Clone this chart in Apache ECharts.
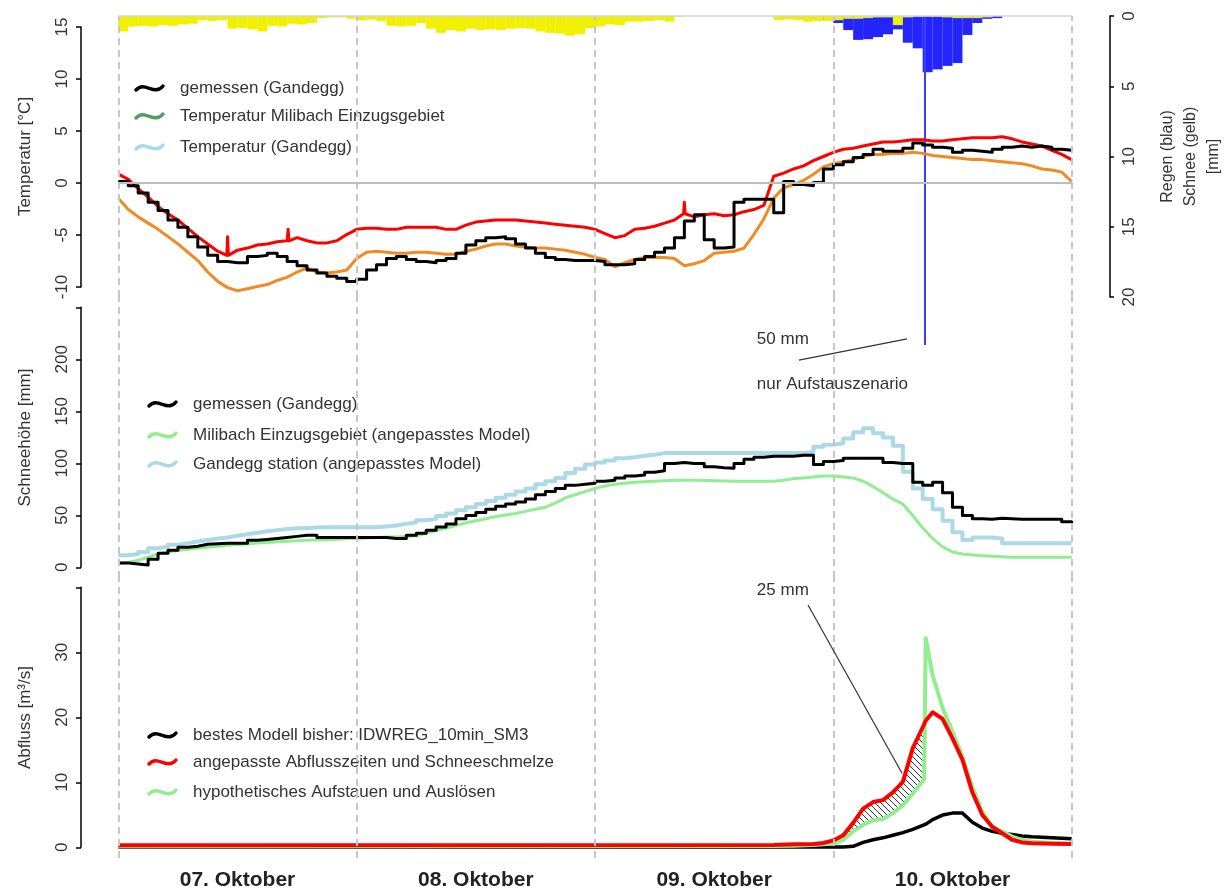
<!DOCTYPE html>
<html>
<head>
<meta charset="utf-8">
<script src="https://cdn.jsdelivr.net/npm/echarts@6/dist/echarts.min.js"></script>
<style>
  html, body { margin: 0; padding: 0; background: #fff; }
  #chart { width: 1228px; height: 890px; }
</style>
</head>
<body>
<div id="chart"></div>
<script>
// ---------------------------------------------------------------
// Time axis: hours since 07. Oktober 00:00 (four days, 0..96 h)
// ---------------------------------------------------------------
const dayTicks = [12, 36, 60, 84];
const dayLabels = ['07. Oktober', '08. Oktober', '09. Oktober', '10. Oktober'];
const dayBounds = [0, 24, 48, 72, 96];

// Temperature [°C], hourly values h = 0..96
const tempMeasured = [0.1,-0.3,-1.0,-1.9,-2.7,-3.6,-4.3,-5.2,-6.2,-7.0,
  -7.6,-7.7,-7.7,-7.1,-7.0,-6.8,-7.1,-7.6,-8.0,-8.4,
  -8.7,-9.0,-9.2,-9.5,-9.3,-8.4,-7.9,-7.3,-7.1,-7.4,
  -7.6,-7.7,-7.5,-7.3,-6.8,-6.0,-5.6,-5.3,-5.2,-5.4,
  -5.9,-6.3,-6.8,-7.2,-7.4,-7.5,-7.5,-7.5,-7.6,-7.9,
  -7.9,-7.8,-7.4,-7.1,-6.7,-6.3,-5.3,-3.7,-3.1,-5.5,
  -6.3,-6.2,-1.9,-1.6,-1.6,-1.6,-2.9,0.1,-0.2,-0.3,
  0.0,1.3,1.7,2.0,2.4,2.7,3.2,3.0,3.0,3.3,
  3.8,3.6,3.4,3.3,2.9,3.1,3.0,2.9,3.2,3.4,
  3.5,3.4,3.5,3.4,3.2,3.1,3.1];
const tempCatchment = [0.8,0.3,-0.6,-1.4,-2.3,-3.0,-3.6,-4.4,-5.2,-5.9,
  -6.6,-7.0,-6.5,-6.3,-6.0,-5.9,-5.7,-5.6,-5.3,-5.6,
  -5.8,-5.8,-5.6,-5.0,-4.5,-4.4,-4.4,-4.5,-4.5,-4.3,
  -4.3,-4.3,-4.3,-4.5,-4.5,-4.1,-3.8,-3.7,-3.6,-3.6,
  -3.6,-3.7,-3.8,-3.9,-4.0,-4.1,-4.2,-4.3,-4.5,-4.9,
  -5.3,-5.1,-4.5,-4.4,-4.2,-3.9,-3.6,-3.0,-3.3,-3.1,
  -3.0,-3.2,-3.1,-2.8,-2.6,-2.2,0.6,0.9,1.3,1.6,
  2.1,2.5,2.9,3.2,3.3,3.5,3.7,3.9,3.9,4.0,
  4.1,4.1,4.0,4.0,4.1,4.2,4.3,4.3,4.3,4.4,
  4.2,3.9,3.7,3.5,3.1,2.7,2.2];
// short spikes of the catchment series: [hour, level, peak]
const tempCatchmentSpikes = [[11.0,-7.0,-5.2],[17.1,-5.6,-4.5],[57.0,-3.0,-1.9]];
const tempStation = [-1.5,-2.6,-3.3,-3.9,-4.5,-5.2,-5.9,-6.7,-7.5,-8.6,
  -9.5,-10.1,-10.4,-10.2,-10.0,-9.8,-9.4,-9.1,-8.6,-8.2,
  -8.6,-8.7,-8.6,-8.4,-7.3,-6.7,-6.6,-6.7,-6.8,-6.8,
  -6.7,-6.7,-6.8,-6.9,-6.9,-6.6,-6.4,-6.1,-5.9,-5.9,
  -6.1,-6.2,-6.3,-6.3,-6.4,-6.5,-6.7,-6.9,-7.2,-7.4,
  -8.1,-7.7,-7.4,-7.2,-7.2,-7.2,-7.3,-8.0,-7.8,-7.5,
  -6.8,-6.7,-6.6,-6.3,-5.0,-3.5,-1.5,-0.5,-0.2,0.2,
  0.8,1.5,1.8,2.0,2.2,2.5,2.7,2.7,2.8,2.8,
  2.9,2.8,2.6,2.5,2.4,2.3,2.2,2.2,2.1,2.0,
  1.9,1.8,1.6,1.3,1.2,1.0,0.1];

// Precipitation per hour [mm]; rain as [hour, mm], snow for every hour 0..95
const rainMm = [[0,0.35],[1,0.05],[66,0.1],[67,0.15],[68,0.15],[69,0.2],[70,0.2],
  [71,0.25],[72,0.5],[73,1.0],[74,1.7],[75,1.65],[76,1.5],[77,1.3],[78,0.95],
  [79,1.9],[80,2.3],[81,4.0],[82,3.8],[83,3.55],[84,3.35],[85,1.35],[86,0.5],
  [87,0.2],[88,0.15]];
const snowfallMm = [1.1,0.75,0.7,0.75,0.65,0.7,0.6,0.55,0.3,0.35,
  0.3,0.9,0.85,0.95,1.1,0.7,0.75,0.55,0.6,0.5,
  0.15,0.1,0.1,0.2,0.3,0.25,0.35,0.7,0.75,0.7,
  0.5,0.9,1.2,1.0,1.1,0.9,1.0,0.95,1.0,0.9,
  0.85,0.9,1.1,1.2,1.25,1.4,1.3,0.85,0.75,0.6,
  0.65,0.4,0.4,0.35,0.3,0.4,0.05,0,0,0,
  0,0,0,0,0,0,0.3,0.25,0.3,0.4,
  0.35,0.35,0.3,0.2,0.2,0.15,0.1,0.1,0.65,0.1,
  0.05,0.05,0.05,0.1,0.15,0.15,0.15,0.1,0,0,
  0,0,0,0,0,0];
// hypothetical release (damming scenario only)
const releaseHour = 81.23;
const releaseMm = 50;

// Snow depth [mm], hourly values h = 0..96
const snowMeasured = [4.4,3.5,2.5,8,13.7,16.6,19.5,20.5,22.4,23,
  23.4,23.4,23.4,26.2,27,28,29,30,31,31,
  29,29,29,29,29,29,29,28,28,31,
  33,36,39,42,47,50,53,56,59,61,
  63,66,70,73,76,79,80,81,83,84,
  86,88,89,91.6,93,100,101,100,100,97,
  96,95.5,100,104,106,107,107,107,108,108,
  99,102,103,105,105,105,105,101,100,100,
  82,79,82,72,58,50,47,46.5,47.4,47,
  46.4,46.4,46.4,46.4,46.4,44,42.6];
const snowCatchment = [4,5,7,10,13,15,16.5,17.5,18.5,19.5,
  20.5,21.4,22.2,23,23.6,24.2,24.8,25.3,25.8,26.2,
  26.5,26.8,27.2,27.6,28,28.5,29,29.3,29.5,29.8,
  30.5,33,35.5,38,40.5,43,45,47,49,50.5,
  52,54,56,58,62,67,70,73,76,78.5,
  80,81,82,82.5,83,83.5,84,84,84,83.8,
  83.5,83.2,83,83,83,83,83,84,85.5,86,
  87,88,88,87,86,83,78,72,66,61,
  50,38,28,20,15,13,12,11.5,11,10.5,
  10,10,10,10,10,10,10];
const snowStation = [11.8,13,15,18.5,20,22,23.5,25,26.5,28,
  29,30.5,32,33.5,35,36,37,37.8,38,38.5,
  38.7,38.7,38.7,38.7,38.7,38.7,39.5,40.5,42,43.5,
  45.5,47,49.5,52,55,58,61,64,67,70,
  73,76,80,83,86,91,95,99,101,103,
  105,106,107.5,108.5,110,110,110,110,110,110,
  110,110,110,110,110,110,110,110,110,111,
  116,118,119.5,124,130,134,129,125,117,92,
  76,66,56,45,34,26.5,29,29,28,23.4,
  23.4,23.4,23.4,23.4,23.4,23.4,23.4];

// Discharge [m³/s] at common time steps
const qHours    = [0,66,68,70,71,72,73,74,75,76,77,78,79,80,81,81.15,81.3,82,83,84,85,86,87,88,89,90,91,92,94,96];
const qBest     = [0.1,0.1,0.1,0.1,0.1,0.1,0.1,0.2,0.8,1.2,1.5,1.9,2.3,2.8,3.4,3.5,3.6,4.3,5.0,5.3,5.3,3.9,3.0,2.5,2.2,2.0,1.8,1.65,1.5,1.35];
const qAdjusted = [0.35,0.4,0.5,0.55,0.7,1.1,1.9,3.8,6.0,7.0,7.3,8.5,10.1,15.3,18.5,19.0,19.5,20.8,19.8,16.8,13.5,8.5,5.0,3.2,2.2,1.2,0.8,0.65,0.6,0.55];
const qDamming  = [0.2,0.25,0.3,0.4,0.5,0.6,1.2,2.5,3.5,4.2,4.4,5.3,6.5,8.3,10.2,10.6,32.2,26.5,21.5,17.8,14.0,9.3,5.5,3.1,2.5,1.7,1.2,0.9,0.7,0.6];
// hatched band between the two scenarios (index range in qHours)
const hatchFrom = 5, hatchTo = 15;

// ---------------------------------------------------------------
// Layout
// ---------------------------------------------------------------
const X_MIN = -3.76, X_MAX = 99.86;
const LEFT = 81, WIDTH = 1029;
const FONT = "'Liberation Sans', Arial, sans-serif";
const TXT = '#333333';

const hourly = values => values.map((v, i) => [i, v]);
const pairs = (xs, ys) => xs.map((x, i) => [x, ys[i]]);

function withSpikes(values, spikes) {
  const pts = hourly(values);
  spikes.forEach(([t, base, peak]) => {
    pts.push([t - 0.08, base], [t, peak], [t + 0.08, base]);
  });
  return pts.sort((a, b) => a[0] - b[0]);
}

const rainFull = new Array(96).fill(0);
rainMm.forEach(([h, v]) => { rainFull[h] = v; });
const rainBars = rainFull.map((v, i) => [i + 0.5, v]);
const snowBars = snowfallMm.map((v, i) => [i + 0.5, v]);

// hatch pattern for the band
const hatch = document.createElement('canvas');
hatch.width = 6; hatch.height = 6;
(function () {
  const c = hatch.getContext('2d');
  c.strokeStyle = '#333';
  c.lineWidth = 1;
  c.beginPath();
  for (let k = -1; k <= 1; k++) {
    c.moveTo(k * 6, 0);
    c.lineTo(k * 6 + 6, 6);
  }
  c.stroke();
})();

const grids = [
  { top: 16,    height: 281 },   // 0 temperature + precipitation
  { top: 297,   height: 281 },   // 1 snow depth
  { top: 577,   height: 281 },   // 2 discharge
  { top: 27,    height: 260 },   // 3 temperature scale  (-10..15)
  { top: 307.3, height: 260 },   // 4 snow depth scale   (0..250)
  { top: 587.3, height: 260 },   // 5 discharge scale    (0..40)
  { top: 16,    height: 329 }    // 6 release bar        (0..50 mm)
].map(g => Object.assign({ left: LEFT, width: WIDTH, containLabel: false, outerBoundsMode: 'none' }, g));

const xAxes = grids.map((g, i) => ({
  type: 'value', gridIndex: i, min: X_MIN, max: X_MAX, show: i === 2,
  axisLine: { show: false, onZero: false }, axisTick: { show: false }, splitLine: { show: false },
  axisLabel: {
    show: i === 2,
    customValues: dayTicks,
    formatter: v => dayLabels[dayTicks.indexOf(v)] || '',
    margin: 12, fontFamily: FONT, fontSize: 21, fontWeight: 'bold', color: '#222'
  }
}));

const hiddenAxis = (grid, min, max, name) => ({
  type: 'value', gridIndex: grid, min, max, position: 'left',
  axisLine: { show: false, onZero: false }, axisTick: { show: false },
  axisLabel: { show: false }, splitLine: { show: false },
  name, nameLocation: 'middle', nameRotate: 90, nameGap: 47,
  nameTextStyle: { fontFamily: FONT, fontSize: 17, color: TXT }
});

const scaleAxis = (grid, min, max, interval, hideTop) => ({
  type: 'value', gridIndex: grid, min, max, interval, position: 'left',
  axisLine: { show: true, onZero: false, lineStyle: { color: '#000', width: 1.5 } },
  axisTick: { show: true, length: 5, lineStyle: { color: '#000', width: 1.5 } },
  splitLine: { show: false },
  axisLabel: {
    rotate: 90, margin: 10, fontFamily: FONT, fontSize: 17, color: TXT,
    formatter: v => (hideTop && v === max) ? '' : String(v)
  }
});

const yAxes = [
  hiddenAxis(0, -11, 16, 'Temperatur [°C]'),                  // 0
  {                                                           // 1 precipitation
    type: 'value', gridIndex: 0, position: 'right', inverse: true,
    min: 0, max: 20, interval: 5,
    axisLine: { show: true, onZero: false, lineStyle: { color: '#000', width: 1.5 } },
    axisTick: { show: true, length: 4, lineStyle: { color: '#000', width: 1.5 } },
    splitLine: { show: false },
    axisLabel: { rotate: 90, margin: 11, fontFamily: FONT, fontSize: 17, color: TXT },
    name: 'Regen (blau)\nSchnee (gelb)\n[mm]', nameLocation: 'middle',
    nameRotate: 90, nameGap: 46,
    nameTextStyle: { fontFamily: FONT, fontSize: 16, color: TXT, lineHeight: 23 }
  },
  hiddenAxis(1, -10, 260, 'Schneehöhe [mm]'),                 // 2
  hiddenAxis(2, -1.6, 41.6, 'Abfluss [m³/s]'),                // 3
  scaleAxis(3, -10, 15, 5, false),                            // 4
  scaleAxis(4, 0, 250, 50, true),                             // 5
  scaleAxis(5, 0, 40, 10, true),                              // 6
  { type: 'value', gridIndex: 6, min: 0, max: 50, inverse: true, show: false } // 7
];

const dayLineStyle = { color: '#c6c6c6', width: 2, type: [7, 5] };
const dayLines = grid => ({
  type: 'line', xAxisIndex: grid, yAxisIndex: [0, 2, 3][grid], data: [], z: 1,
  silent: true,
  markLine: {
    silent: true, symbol: 'none', label: { show: false },
    lineStyle: dayLineStyle, animation: false,
    data: dayBounds.map(h => ({ xAxis: h }))
  }
});

const lineSeries = (x, y, data, color, width, extra) => Object.assign({
  type: 'line', xAxisIndex: x, yAxisIndex: y, data, showSymbol: false, symbol: 'none',
  lineStyle: { color, width, join: 'round' }, itemStyle: { color }, silent: true, z: 3
}, extra || {});

const annStyle = { fontFamily: FONT, fontSize: 17, color: TXT };
const textPoint = (coord, text) => ({
  coord, symbolSize: 0,
  label: Object.assign({ show: true, position: 'right', distance: 0, formatter: text }, annStyle)
});

const series = [
  dayLines(0), dayLines(1), dayLines(2),

  // precipitation (stacked, hanging from the top)
  {
    type: 'bar', xAxisIndex: 0, yAxisIndex: 1, stack: 'prec', data: rainBars,
    barWidth: 10, itemStyle: { color: '#2424ff' }, silent: true, z: 2,
    markLine: {
      silent: true, symbol: 'none', label: { show: false },
      lineStyle: { color: '#d4d4d4', width: 1.5, type: 'solid' },
      data: [[{ coord: [0, 0] }, { coord: [96, 0] }]]
    }
  },
  {
    type: 'bar', xAxisIndex: 0, yAxisIndex: 1, stack: 'prec', data: snowBars,
    barWidth: 10, itemStyle: { color: '#f0f000' }, silent: true, z: 2
  },
  {
    type: 'bar', xAxisIndex: 6, yAxisIndex: 7, data: [[releaseHour, releaseMm]],
    barWidth: 2, itemStyle: { color: '#3d3dff' }, silent: true, z: 2
  },

  // temperature
  lineSeries(0, 0, hourly(tempStation), '#f28a24', 3, {
    markLine: {
      silent: true, symbol: 'none', label: { show: false },
      lineStyle: { color: '#bdbdbd', width: 2, type: 'solid' },
      data: [[{ coord: [0, 0] }, { coord: [96, 0] }]]
    }
  }),
  lineSeries(0, 0, withSpikes(tempCatchment, tempCatchmentSpikes), '#ff0000', 3),
  lineSeries(0, 0, hourly(tempMeasured), '#000000', 3, { step: 'end' }),

  // snow depth
  lineSeries(1, 2, hourly(snowCatchment), '#90ee90', 3),
  lineSeries(1, 2, hourly(snowStation), '#add8e6', 4, { step: 'end' }),
  lineSeries(1, 2, hourly(snowMeasured), '#000000', 3, { step: 'end' }),
  {
    type: 'line', xAxisIndex: 1, yAxisIndex: 2, data: [], silent: true,
    markLine: {
      silent: true, symbol: 'none', label: { show: false },
      lineStyle: { color: '#333', width: 1.2, type: 'solid' },
      data: [[{ coord: [68.54, 199.3] }, { coord: [79.42, 219.7] }]]
    },
    markPoint: {
      silent: true,
      data: [textPoint([64.3, 219.7], '50 mm'), textPoint([64.3, 176.3], 'nur Aufstauszenario')]
    }
  },

  // discharge
  {
    type: 'custom', xAxisIndex: 2, yAxisIndex: 3, data: [[0, 0]], silent: true, z: 2,
    renderItem: (params, api) => {
      const pts = [];
      for (let i = hatchFrom; i <= hatchTo; i++) pts.push(api.coord([qHours[i], qAdjusted[i]]));
      for (let i = hatchTo; i >= hatchFrom; i--) pts.push(api.coord([qHours[i], qDamming[i]]));
      return {
        type: 'polygon', shape: { points: pts },
        style: { fill: { image: hatch, repeat: 'repeat' }, stroke: null }
      };
    }
  },
  lineSeries(2, 3, pairs(qHours, qBest), '#000000', 3.5),
  lineSeries(2, 3, pairs(qHours, qDamming), '#90ee90', 4),
  lineSeries(2, 3, pairs(qHours, qAdjusted), '#ff0000', 4),
  {
    type: 'line', xAxisIndex: 2, yAxisIndex: 3, data: [], silent: true,
    markLine: {
      silent: true, symbol: 'none', label: { show: false },
      lineStyle: { color: '#333', width: 1.2, type: 'solid' },
      data: [[{ coord: [69.45, 37.3] }, { coord: [78.92, 11.43] }]]
    },
    markPoint: { silent: true, data: [textPoint([64.3, 39.6], '25 mm')] }
  }
];

// legends drawn as squiggle + text
const legendBlocks = [
  { x: 136, textX: 180, ys: [88, 116, 147], items: [
    ['gemessen (Gandegg)', '#000000'],
    ['Temperatur Milibach Einzugsgebiet', '#509e64'],
    ['Temperatur (Gandegg)', '#a9d9ec']] },
  { x: 149, textX: 193, ys: [404, 435, 464], items: [
    ['gemessen (Gandegg)', '#000000'],
    ['Milibach Einzugsgebiet (angepasstes Model)', '#90ee90'],
    ['Gandegg station (angepasstes Model)', '#add8e6']] },
  { x: 149, textX: 193, ys: [735, 762, 792], items: [
    ['bestes Modell bisher: IDWREG_10min_SM3', '#000000'],
    ['angepasste Abflusszeiten und Schneeschmelze', '#ff0000'],
    ['hypothetisches Aufstauen und Auslösen', '#90ee90']] }
];
const graphics = [];
legendBlocks.forEach(b => {
  b.items.forEach(([label, color], i) => {
    const y = b.ys[i];
    graphics.push({
      type: 'bezierCurve', silent: true,
      shape: { x1: b.x, y1: y + 2, cpx1: b.x + 9, cpy1: y - 8, cpx2: b.x + 18, cpy2: y + 9, x2: b.x + 27, y2: y - 2 },
      style: { stroke: color, lineWidth: 3.5, fill: null, lineCap: 'round' }
    });
    graphics.push({
      type: 'text', silent: true,
      style: { text: label, x: b.textX, y, fill: TXT, font: '17px ' + FONT, verticalAlign: 'middle' }
    });
  });
});

const chart = echarts.init(document.getElementById('chart'), null, { renderer: 'canvas' });
chart.setOption({
  animation: false,
  backgroundColor: '#ffffff',
  grid: grids,
  xAxis: xAxes,
  yAxis: yAxes,
  series,
  graphic: graphics
});
</script>
</body>
</html>
